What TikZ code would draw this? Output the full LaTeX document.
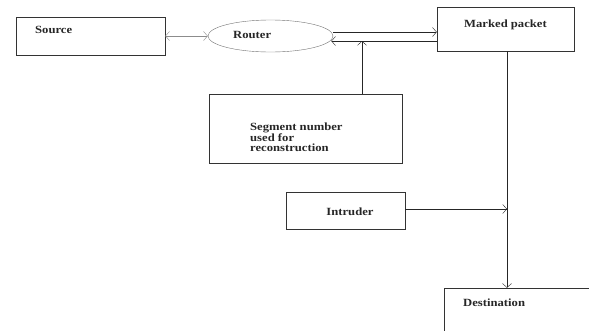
\documentclass[tikz,border=0pt]{standalone}
\usepackage{fontspec}
\setmainfont{Liberation Serif}[FakeStretch=1.15]
\usetikzlibrary{arrows.meta,shapes.geometric}

\begin{document}
\begin{tikzpicture}
			[x=1pt, y=-1pt,
			caixa/.style	={rectangle, draw=black!80, thin, inner sep=0pt},
			elipse/.style	={ellipse, draw=black!55, thin, inner sep=0pt},
			rotulo/.style	={font=\fontsize{11}{10.5}\selectfont\bfseries, inner sep=0pt, text=black!85},
			seta/.style		={draw=black!85, thin, -{Straight Barb[length=4pt,width=9pt]}},
			setadupla/.style={draw=black!45, thin, {Straight Barb[length=4pt,width=9pt]}-{Straight Barb[length=4pt,width=9pt]}},]
			\useasboundingbox (0,0) rectangle (589,330);
			\clip (0,0) rectangle (589,330);
			% caixas
			\node[caixa, minimum width=149pt, minimum height=38pt]	(source)	at (90.5,36)	{};
			\node[elipse, minimum width=125pt, minimum height=32pt]	(router)	at (270.5,36)	{};
			\node[caixa, minimum width=137pt, minimum height=44pt]	(marked)	at (505.5,29)	{};
			\node[caixa, minimum width=193pt, minimum height=69pt]	(segment)	at (305.5,128.5){};
			\node[caixa, minimum width=119pt, minimum height=37pt]	(intruder)	at (345.5,210.5){};
			\node[caixa, minimum width=170pt, minimum height=80pt]	(dest)		at (529,328)	{};
			% textos
			\node[rotulo, anchor=west]	(tsource)	at (35,30)		{Source};
			\node[rotulo, anchor=west]	(trouter)	at (233,35)		{Router};
			\node[rotulo]				(tmarked)	at (505.5,25)	{Marked packet};
			\node[rotulo, anchor=west, align=left] (tsegment) at (250,137.5) {Segment number\\used for\\reconstruction};
			\node[rotulo]				(tintruder)	at (350,212)	{Intruder};
			\node[rotulo, anchor=west]	(tdest)		at (463,303)	{Destination};
			% pontos de juncao
			\coordinate (juncao) at (362,41);
			\coordinate (queda) at (507,209);
			% ligacoes
			\draw[setadupla] (source.east) -- (router.west);
			\draw[seta] ([yshift=4pt]router.east) -- ([yshift=4pt]router.east -| marked.west);
			\draw[seta] (juncao -| marked.west) -- ([xshift=-2pt,yshift=-5pt]router.east);
			\draw[seta] (segment.north -| juncao) -- (juncao);
			\draw[seta] (marked.south -| queda) -- (queda |- dest.north);
			\draw[seta] (intruder.east |- queda) -- (queda);
		\end{tikzpicture}
\end{document}
